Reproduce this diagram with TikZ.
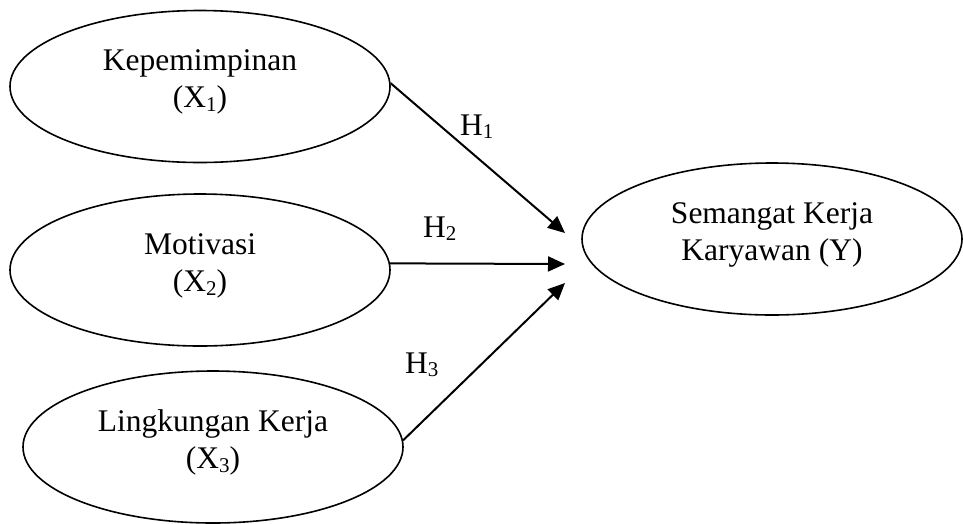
\documentclass[tikz,border=0pt]{standalone}
\usepackage{fontspec}
\setmainfont{Liberation Serif}
\usetikzlibrary{shapes.geometric,arrows.meta}
\newcommand{\sbs}[1]{\raisebox{-0.12em}{\fontsize{21}{21}\selectfont #1}}
\newcommand{\twolines}[2]{\raisebox{4.5pt}[\height][\depth]{\begin{tabular}{@{}c@{}}#1\\#2\end{tabular}}}
\tikzset{
  var/.style={draw=black, line width=1.6pt, ellipse, minimum width=380pt, minimum height=152pt, inner sep=0pt, font=\fontsize{31.5}{37}\selectfont},
  conn/.style={line width=2pt, -{Triangle[length=17pt,width=15pt]}},
  hlab/.style={anchor=base west, inner sep=0pt, font=\fontsize{31.5}{37}\selectfont}
}
\begin{document}
\begin{tikzpicture}[x=1pt,y=-1pt]
\useasboundingbox (0,0) rectangle (963,523);
\node[var] (e1) at (200,86.5) {\twolines{Kepemimpinan}{(X\sbs{1})}};
\node[var] (e2) at (200,270) {\twolines{Motivasi}{(X\sbs{2})}};
\node[var] (e3) at (213,447) {\twolines{Lingkungan Kerja}{(X\sbs{3})}};
\node[var] (ey) at (772,239) {\twolines{Semangat Kerja}{Karyawan (Y)}};
\coordinate (t1) at (565,233);
\coordinate (t2) at (565,264);
\coordinate (t3) at (565,283);
\draw[conn] (e1.1) -- (t1);
\draw[conn] (e2.2) -- (t2);
\draw[conn] (e3.2) -- (t3);
\node[hlab] (h1) at (460,135) {H\sbs{1}};
\node[hlab] (h2) at (423,237) {H\sbs{2}};
\node[hlab] (h3) at (405,373) {H\sbs{3}};
\end{tikzpicture}
\end{document}
